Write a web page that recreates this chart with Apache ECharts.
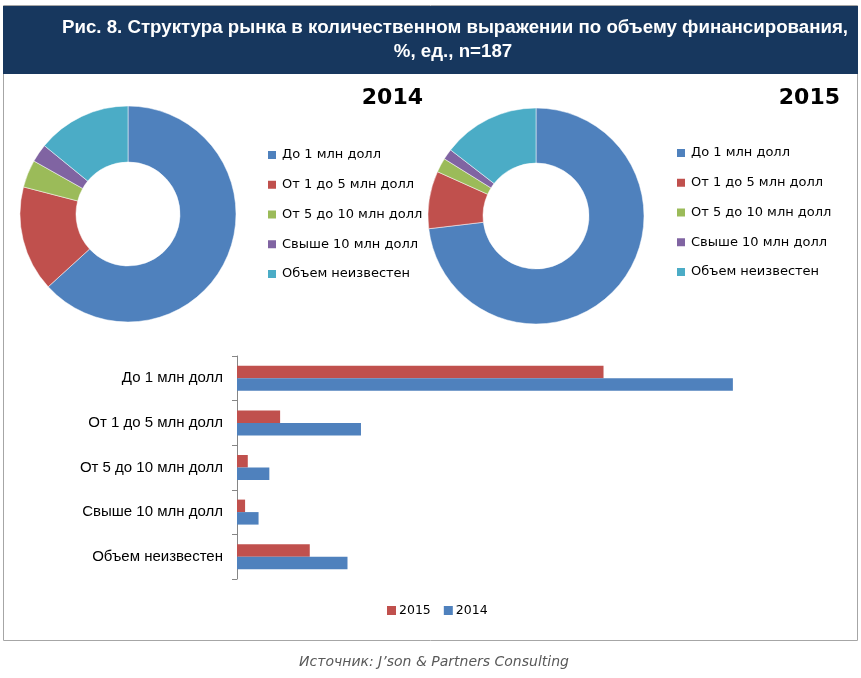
<!DOCTYPE html>
<html>
<head>
<meta charset="utf-8">
<script src="https://cdn.jsdelivr.net/npm/echarts@6/dist/echarts.min.js"></script>
<style>
html,body{margin:0;padding:0;background:#fff;}
#c{width:861px;height:678px;}
</style>
</head>
<body>
<div id="c"></div>
<script>
var categories = ['До 1 млн долл', 'От 1 до 5 млн долл', 'От 5 до 10 млн долл', 'Свыше 10 млн долл', 'Объем неизвестен'];
var values2014 = [184, 46, 12, 8, 41];
var values2015 = [136, 16, 4, 3, 27];
var colors = ['#4F81BD', '#C0504D', '#9BBB59', '#8064A2', '#4BACC6'];
var titleLine1 = 'Рис. 8. Структура рынка в количественном выражении по объему финансирования,';
var titleLine2 = '%, ед., n=187';
var sourceText = 'Источник: J’son & Partners Consulting';

var chart = echarts.init(document.getElementById('c'), null, {renderer: 'canvas'});

function pieData(vals) {
  return categories.map(function (n, i) { return {name: n, value: vals[i], itemStyle: {color: colors[i]}}; });
}

var legendText = {fontFamily: 'DejaVu Sans', fontSize: 13, lineHeight: 14, color: '#000'};
var titleFont = 'bold 18.7px "Liberation Sans", sans-serif';

var option = {
  animation: false,
  backgroundColor: '#fff',
  color: colors,
  graphic: [
    {type: 'rect', shape: {x: 3.5, y: 5.5, width: 854, height: 635}, style: {fill: '#fff', stroke: '#A6A6A6', lineWidth: 1}, z: -10},
    {type: 'rect', shape: {x: 3, y: 6, width: 855, height: 68}, style: {fill: '#17375E'}, z: -5},
    {type: 'text', x: 455, y: 18, style: {text: titleLine1, align: 'center', fill: '#fff', font: titleFont}},
    {type: 'text', x: 453, y: 42, style: {text: titleLine2, align: 'center', fill: '#fff', font: titleFont}},
    {type: 'text', x: 423, y: 87, style: {text: '2014', align: 'right', fill: '#000', font: 'bold 22px "DejaVu Sans", sans-serif'}},
    {type: 'text', x: 840, y: 87, style: {text: '2015', align: 'right', fill: '#000', font: 'bold 22px "DejaVu Sans", sans-serif'}},
    {type: 'text', x: 434, y: 655, style: {text: sourceText, align: 'center', fill: '#595959', font: 'italic 14px "DejaVu Sans", sans-serif'}}
  ],
  legend: [
    {
      data: categories, orient: 'vertical', left: 266, top: 148, padding: 0,
      icon: 'rect', itemWidth: 10, itemHeight: 10, itemGap: 15.75,
      textStyle: legendText, selectedMode: false
    },
    {
      data: categories, orient: 'vertical', left: 675, top: 146, padding: 0,
      icon: 'rect', itemWidth: 10, itemHeight: 10, itemGap: 15.75,
      textStyle: legendText, selectedMode: false
    },
    {
      data: ['2015', '2014'], orient: 'horizontal', left: 387, top: 604, padding: 0,
      icon: 'rect', itemWidth: 9, itemHeight: 9, itemGap: 13, itemStyle: {},
      textStyle: {fontFamily: 'DejaVu Sans', fontSize: 12.5, color: '#000', padding: [0, 0, 0, -2]}, selectedMode: false
    }
  ],
  grid: {left: 237, top: 356, width: 539, height: 223},
  xAxis: {type: 'value', min: 0, max: 200, show: false, splitLine: {show: false}},
  yAxis: {
    type: 'category', data: categories, inverse: true,
    axisLine: {show: true, lineStyle: {color: '#868686'}},
    axisTick: {show: true, length: 5, lineStyle: {color: '#868686'}},
    axisLabel: {color: '#000', fontFamily: '"Liberation Sans Narrow", "Liberation Sans", sans-serif', fontSize: 15, margin: 14}
  },
  series: [
    {
      type: 'pie', name: 'p2014', center: [128, 214], radius: [52, 108],
      label: {show: false}, labelLine: {show: false}, silent: true,
      itemStyle: {borderColor: '#fff', borderWidth: 0.5},
      data: pieData(values2014)
    },
    {
      type: 'pie', name: 'p2015', center: [536, 216], radius: [53, 108],
      label: {show: false}, labelLine: {show: false}, silent: true,
      itemStyle: {borderColor: '#fff', borderWidth: 0.5},
      data: pieData(values2015)
    },
    {
      type: 'bar', name: '2015', data: values2015, barWidth: 12.5, barGap: '0%',
      itemStyle: {color: '#C0504D'}, silent: true
    },
    {
      type: 'bar', name: '2014', data: values2014, barWidth: 12.5, barGap: '0%',
      itemStyle: {color: '#4F81BD'}, silent: true
    }
  ]
};
chart.setOption(option);
</script>
</body>
</html>
